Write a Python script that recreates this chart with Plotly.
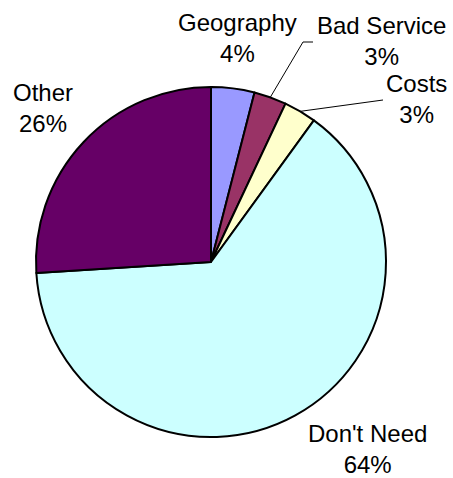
import numpy as np
import plotly.graph_objects as go

# Reasons for not using the service (share of responses, %)
categories = ["Geography", "Bad Service", "Costs", "Don't Need", "Other"]
shares = [4, 3, 3, 64, 26]
colors = ["#9999FF", "#993366", "#FFFFCC", "#CCFFFF", "#660066"]

W, H = 453, 478
CX, CY, R = 211, 262, 175  # pie centre and radius in pixels

def px(x):
    return x / W

def py(y):
    return 1 - y / H

fig = go.Figure(go.Pie(
    labels=categories,
    values=shares,
    sort=False,
    direction="clockwise",
    rotation=0,
    textinfo="none",
    hoverinfo="skip",
    marker=dict(colors=colors, line=dict(color="black", width=2)),
    domain=dict(x=[px(CX - R), px(CX + R)], y=[py(CY + R), py(CY - R)]),
    showlegend=False,
))

# label centres (pixels)
label_pos = {
    "Geography": (237, 38),
    "Bad Service": (381, 41),
    "Costs": (416, 99),
    "Don't Need": (367, 449),
    "Other": (43, 108),
}

annotations = []
for name, val in zip(categories, shares):
    x, y = label_pos[name]
    annotations.append(dict(
        x=px(x), y=py(y), xref="paper", yref="paper",
        text=f"{name}<br>{val}%", showarrow=False,
        xanchor="center", yanchor="middle", borderpad=0,
        font=dict(family="Liberation Sans, Arial, sans-serif", size=24, color="black"),
    ))

# leader lines from slice mid-points on the rim
cum = np.cumsum([0] + shares)
total = cum[-1]

def rim_point(i):
    mid = (cum[i] + cum[i + 1]) / 2 / total * 2 * np.pi
    return CX + R * np.sin(mid), CY - R * np.cos(mid)

shapes = []
bx, by = rim_point(categories.index("Bad Service"))
shapes.append(dict(type="path", xref="paper", yref="paper",
                   path=f"M {px(bx)} {py(by)} L {px(303)} {py(42)} L {px(313)} {py(42)}",
                   line=dict(color="black", width=1)))
cx_, cy_ = rim_point(categories.index("Costs"))
shapes.append(dict(type="line", xref="paper", yref="paper",
                   x0=px(cx_), y0=py(cy_), x1=px(383), y1=py(100),
                   line=dict(color="black", width=1)))

fig.update_layout(
    width=W, height=H,
    margin=dict(l=0, r=0, t=0, b=0),
    paper_bgcolor="white", plot_bgcolor="white",
    annotations=annotations, shapes=shapes,
)

fig.write_html("out.html")
